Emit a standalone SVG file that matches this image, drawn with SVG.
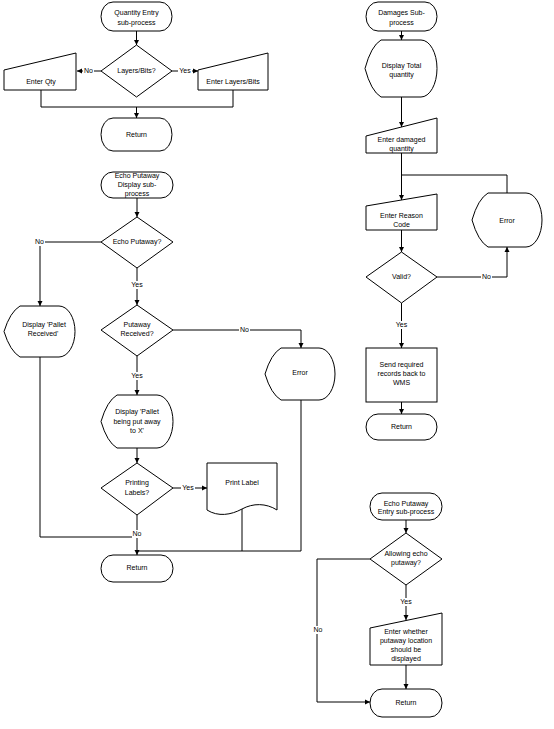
<svg xmlns="http://www.w3.org/2000/svg" width="554" height="729" viewBox="0 0 554 729">
<style>
.s{fill:#fff;stroke:#000;stroke-width:1}
.c{fill:none;stroke:#000;stroke-width:1}
.a{marker-end:url(#ah)}
text{font-family:"Liberation Sans",Arial,sans-serif;font-size:7px;fill:#000;text-anchor:middle}
.bg{fill:#fff;stroke:none}
</style>
<defs>
<marker id="ah" markerUnits="userSpaceOnUse" markerWidth="6" markerHeight="6" refX="5" refY="3" orient="auto">
<path d="M0,0.5 L5,3 L0,5.5 z" fill="#000"/>
</marker>
</defs>
<rect width="554" height="729" fill="#fff"/>

<g id="connectors">
<!-- chart 1 -->
<path class="c a" d="M136.5,31 V45"/>
<path class="c a" d="M101,71 H77"/>
<path class="c a" d="M172,71 H198"/>
<path class="c" d="M41,90 V107 H233 V90"/>
<path class="c a" d="M136.5,107 V118"/>
<!-- chart 2 -->
<path class="c a" d="M137,198 V217"/>
<path class="c a" d="M101,242 H40 V306"/>
<path class="c a" d="M137,268 V305"/>
<path class="c a" d="M173,330 H301 V348"/>
<path class="c a" d="M137,356 V395"/>
<path class="c a" d="M137,448 V463"/>
<path class="c a" d="M173,488 H207"/>
<path class="c a" d="M137,515 V555"/>
<path class="c" d="M40,357 V537 H137"/>
<path class="c" d="M242,509 V551"/>
<path class="c" d="M301,400 V551 H137"/>
<!-- chart 3 -->
<path class="c a" d="M401.5,31 V40"/>
<path class="c a" d="M401.5,97 V127"/>
<path class="c a" d="M401.5,153 V200"/>
<path class="c" d="M401.5,175 H507 V193"/>
<path class="c a" d="M401.5,230 V252"/>
<path class="c a" d="M437,277 H507 V247"/>
<path class="c a" d="M401.5,303 V348"/>
<path class="c a" d="M401.5,402 V414"/>
<!-- chart 4 -->
<path class="c a" d="M406,520 V533"/>
<path class="c a" d="M370,559 H317 V702 H370"/>
<path class="c a" d="M406,585 V620"/>
<path class="c a" d="M406,665 V689"/>
<!-- labels -->
<rect class="bg" x="83" y="67" width="11" height="8"/><text x="88.5" y="71" dy="0.35em">No</text>
<rect class="bg" x="178" y="67" width="14" height="8"/><text x="185" y="71" dy="0.35em">Yes</text>
<rect class="bg" x="34" y="238" width="11" height="8"/><text x="39.5" y="242" dy="0.35em">No</text>
<rect class="bg" x="130" y="281" width="14" height="8"/><text x="137" y="285" dy="0.35em">Yes</text>
<rect class="bg" x="239" y="326" width="11" height="8"/><text x="244.5" y="330" dy="0.35em">No</text>
<rect class="bg" x="130" y="372" width="14" height="8"/><text x="137" y="376" dy="0.35em">Yes</text>
<rect class="bg" x="181" y="484" width="14" height="8"/><text x="188" y="488" dy="0.35em">Yes</text>
<rect class="bg" x="132" y="530" width="10" height="8"/><text x="137" y="534" dy="0.35em">No</text>
<rect class="bg" x="481" y="273" width="11" height="8"/><text x="486.5" y="277" dy="0.35em">No</text>
<rect class="bg" x="394.5" y="321" width="14" height="8"/><text x="401.5" y="325" dy="0.35em">Yes</text>
<rect class="bg" x="312" y="626" width="11" height="8"/><text x="318" y="630" dy="0.35em">No</text>
<rect class="bg" x="399" y="598" width="14" height="8"/><text x="406" y="602" dy="0.35em">Yes</text>
</g>

<!-- chart 1 nodes -->
<g id="start1">
<path class="s" d="M113,2 H160 A12,14.5 0 0 1 160,31 H113 A12,14.5 0 0 1 113,2 Z"/>
<text x="136.5" y="13" dy="0.35em">Quantity Entry</text>
<text x="136.5" y="23" dy="0.35em">sub-process</text>
</g>
<g id="dec_layers">
<polygon class="s" points="136.5,45 172,71 136.5,97 101,71"/>
<text x="136.5" y="71" dy="0.35em">Layers/Bits?</text>
</g>
<g id="enter_qty">
<polygon class="s" points="4,70 76,53 76,90 4,90"/>
<text x="41" y="82" dy="0.35em">Enter Qty</text>
</g>
<g id="enter_layers">
<polygon class="s" points="198,70 268,53 268,90 198,90"/>
<text x="233" y="82" dy="0.35em">Enter Layers/Bits</text>
</g>
<g id="return1">
<path class="s" d="M113,118 H160 A12,16.5 0 0 1 160,151 H113 A12,16.5 0 0 1 113,118 Z"/>
<text x="136.5" y="135" dy="0.35em">Return</text>
</g>

<!-- chart 2 nodes -->
<g id="start2">
<path class="s" d="M113,172 H161 A12,13 0 0 1 161,198 H113 A12,13 0 0 1 113,172 Z"/>
<text x="137" y="176" dy="0.35em">Echo Putaway</text>
<text x="137" y="185" dy="0.35em">Display sub-</text>
<text x="137" y="194" dy="0.35em">process</text>
</g>
<g id="dec_echo">
<polygon class="s" points="137,217 173,242 137,268 101,242"/>
<text x="137" y="242" dy="0.35em">Echo Putaway?</text>
</g>
<g id="disp_received">
<path class="s" d="M4,331.5 Q10,312 20,306 H59 A16,25.5 0 0 1 59,357 H20 Q10,351 4,331.5 Z"/>
<text x="44" y="325" dy="0.35em">Display 'Pallet</text>
<text x="43" y="334" dy="0.35em">Received'</text>
</g>
<g id="dec_putaway">
<polygon class="s" points="137,305 173,330 137,356 101,330"/>
<text x="137" y="325" dy="0.35em">Putaway</text>
<text x="137" y="334" dy="0.35em">Received?</text>
</g>
<g id="error1">
<path class="s" d="M265,374 Q271,354 281,348 H319 A16,26 0 0 1 319,400 H281 Q271,394 265,374 Z"/>
<text x="300" y="373" dy="0.35em">Error</text>
</g>
<g id="disp_putaway">
<path class="s" d="M101,421.5 Q107,401 117,395 H157 A16,26.5 0 0 1 157,448 H117 Q107,442 101,421.5 Z"/>
<text x="137" y="412" dy="0.35em">Display 'Pallet</text>
<text x="137" y="422" dy="0.35em">being put away</text>
<text x="137" y="431" dy="0.35em">to X'</text>
</g>
<g id="dec_printing">
<polygon class="s" points="137,463 173,488 137,515 101,488"/>
<text x="137" y="483" dy="0.35em">Printing</text>
<text x="137" y="493" dy="0.35em">Labels?</text>
</g>
<g id="print_label">
<path class="s" d="M207,463 H277 V510 C266,503 253,503 242,509 C231,515 218,517 207,510 Z"/>
<text x="242" y="483" dy="0.35em">Print Label</text>
</g>
<g id="return2">
<path class="s" d="M113,555 H161 A12,13.5 0 0 1 161,582 H113 A12,13.5 0 0 1 113,555 Z"/>
<text x="137" y="568" dy="0.35em">Return</text>
</g>

<!-- chart 3 nodes -->
<g id="start3">
<path class="s" d="M378,2 H425 A12,14.5 0 0 1 425,31 H378 A12,14.5 0 0 1 378,2 Z"/>
<text x="401.5" y="13" dy="0.35em">Damages Sub-</text>
<text x="401.5" y="23" dy="0.35em">process</text>
</g>
<g id="disp_total">
<path class="s" d="M365,68.5 Q371,46 381,40 H421 A16,28.5 0 0 1 421,97 H381 Q371,91 365,68.5 Z"/>
<text x="401.5" y="66" dy="0.35em">Display Total</text>
<text x="401.5" y="75" dy="0.35em">quantity</text>
</g>
<g id="enter_damaged">
<polygon class="s" points="366,136 437,118 437,153 366,153"/>
<text x="401.5" y="140" dy="0.35em">Enter damaged</text>
<text x="401.5" y="149" dy="0.35em">quantity</text>
</g>
<g id="enter_reason">
<polygon class="s" points="366,206 437,194 437,230 366,230"/>
<text x="401.5" y="216" dy="0.35em">Enter Reason</text>
<text x="401.5" y="225" dy="0.35em">Code</text>
</g>
<g id="error2">
<path class="s" d="M472,220 Q478,199 488,193 H526 A16,27 0 0 1 526,247 H488 Q478,241 472,220 Z"/>
<text x="507" y="221" dy="0.35em">Error</text>
</g>
<g id="dec_valid">
<polygon class="s" points="401.5,252 437,277 401.5,303 366,277"/>
<text x="401.5" y="277" dy="0.35em">Valid?</text>
</g>
<g id="send_records">
<rect class="s" x="366" y="348" width="71" height="54"/>
<text x="401.5" y="365" dy="0.35em">Send required</text>
<text x="401.5" y="374" dy="0.35em">records back to</text>
<text x="401.5" y="383" dy="0.35em">WMS</text>
</g>
<g id="return3">
<path class="s" d="M378,414 H425 A12,13 0 0 1 425,440 H378 A12,13 0 0 1 378,414 Z"/>
<text x="401.5" y="427" dy="0.35em">Return</text>
</g>

<!-- chart 4 nodes -->
<g id="start4">
<path class="s" d="M382,493 H430 A12,13.5 0 0 1 430,520 H382 A12,13.5 0 0 1 382,493 Z"/>
<text x="406" y="504" dy="0.35em">Echo Putaway</text>
<text x="406" y="512" dy="0.35em">Entry sub-process</text>
</g>
<g id="dec_allowing">
<polygon class="s" points="406,533 442,559 406,585 370,559"/>
<text x="406" y="554" dy="0.35em">Allowing echo</text>
<text x="406" y="563" dy="0.35em">putaway?</text>
</g>
<g id="enter_whether">
<polygon class="s" points="370,628 442,613 442,665 370,665"/>
<text x="406" y="632" dy="0.35em">Enter whether</text>
<text x="406" y="641" dy="0.35em">putaway location</text>
<text x="406" y="650" dy="0.35em">should be</text>
<text x="406" y="659" dy="0.35em">displayed</text>
</g>
<g id="return4">
<path class="s" d="M382,689 H430 A12,14 0 0 1 430,717 H382 A12,14 0 0 1 382,689 Z"/>
<text x="406" y="703" dy="0.35em">Return</text>
</g>
</svg>
